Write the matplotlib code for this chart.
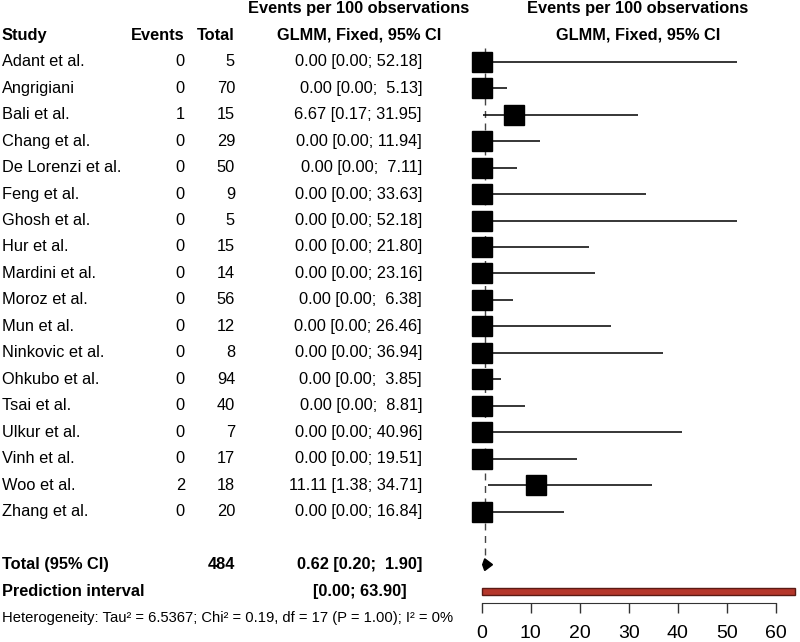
import matplotlib.pyplot as plt
import matplotlib.transforms as mtransforms
from matplotlib.patches import Polygon, Rectangle

plt.rcParams['font.family'] = ['Liberation Sans', 'DejaVu Sans']

# study data
studies = ["Adant et al.", "Angrigiani", "Bali et al.", "Chang et al.",
           "De Lorenzi et al.", "Feng et al.", "Ghosh et al.", "Hur et al.",
           "Mardini et al.", "Moroz et al.", "Mun et al.", "Ninkovic et al.",
           "Ohkubo et al.", "Tsai et al.", "Ulkur et al.", "Vinh et al.",
           "Woo et al.", "Zhang et al."]
events = [0, 0, 1, 0, 0, 0, 0, 0, 0, 0, 0, 0, 0, 0, 0, 0, 2, 0]
totals = [5, 70, 15, 29, 50, 9, 5, 15, 14, 56, 12, 8, 94, 40, 7, 17, 18, 20]
est = [0.00, 0.00, 6.67, 0.00, 0.00, 0.00, 0.00, 0.00, 0.00, 0.00, 0.00,
       0.00, 0.00, 0.00, 0.00, 0.00, 11.11, 0.00]
lower = [0.00, 0.00, 0.17, 0.00, 0.00, 0.00, 0.00, 0.00, 0.00, 0.00, 0.00,
         0.00, 0.00, 0.00, 0.00, 0.00, 1.38, 0.00]
upper = [52.18, 5.13, 31.95, 11.94, 7.11, 33.63, 52.18, 21.80, 23.16, 6.38,
         26.46, 36.94, 3.85, 8.81, 40.96, 19.51, 34.71, 16.84]

# pooled
total_n = 484
pooled = 0.62
pooled_lo = 0.20
pooled_hi = 1.90
pred_lo = 0.00
pred_hi = 63.90
xticks = [0, 10, 20, 30, 40, 50, 60]

W, H = 800, 642
fig = plt.figure(figsize=(W / 100, H / 100), dpi=100)
ax = fig.add_axes([462 / W, 1 - 603.3 / H, (798 - 462) / W, 603.3 / H])
ax.set_xlim(-4.02, 64.55)
ax.set_ylim(20.46, -2.33)

fs = 11.8
tr = mtransforms.blended_transform_factory(fig.transFigure, ax.transData)

def col(x, y, s, ha, bold=False, size=fs):
    ax.text(x / W, y, s, transform=tr, ha=ha, va='center', fontsize=size,
            fontweight='bold' if bold else 'normal', clip_on=False)

# headers
col(359, -2, "Events per 100 observations", 'center', True)
col(638, -2, "Events per 100 observations", 'center', True)
col(2, -1, "Study", 'left', True)
col(185, -1, "Events", 'right', True)
col(235, -1, "Total", 'right', True)
col(359, -1, "GLMM, Fixed, 95% CI", 'center', True)
col(638, -1, "GLMM, Fixed, 95% CI", 'center', True)

for i, name in enumerate(studies):
    col(2, i, name, 'left')
    col(185, i, str(events[i]), 'right')
    col(235, i, str(totals[i]), 'right')
    col(422, i, f"{est[i]:.2f} [{lower[i]:.2f}; {upper[i]:5.2f}]", 'right')
    ax.plot([lower[i], upper[i]], [i, i], color='black', lw=1.1,
            solid_capstyle='butt')
    ax.plot(est[i], i, marker='s', ms=14.5, color='black', mec='black')

# total rows
col(2, 19, "Total (95% CI)", 'left', True)
col(235, 19, str(total_n), 'right', True)
col(422, 19, f"{pooled:.2f} [{pooled_lo:.2f}; {pooled_hi:5.2f}]", 'right', True)
col(2, 20, "Prediction interval", 'left', True)
col(407, 20, f"[{pred_lo:.2f}; {pred_hi:.2f}]", 'right', True)
col(2, 21, "Heterogeneity: Tau² = 6.5367; Chi² = 0.19, df = 17 (P = 1.00); I² = 0%",
    'left', size=10.6)

ax.plot([pooled, pooled], [-0.5, 18.7], color='#444444', lw=1,
        linestyle=(0, (5, 4)), zorder=0)
ax.add_patch(Polygon([[pooled_lo, 19], [pooled, 18.78], [pooled_hi + 0.3, 19],
                      [pooled, 19.22]], closed=True, color='black'))
ax.add_patch(Rectangle((pred_lo, 20 - 0.13), pred_hi - pred_lo, 0.26,
                       facecolor='#b5372b', edgecolor='#5a1a14', lw=1))

for s in ['top', 'right', 'left']:
    ax.spines[s].set_visible(False)
ax.spines['bottom'].set_bounds(0, 60)
ax.spines['bottom'].set_color('#333333')
ax.set_yticks([])
ax.set_xticks(xticks)
ax.tick_params(axis='x', length=7.5, width=1, color='#333333', pad=8,
               labelsize=14)

fig.savefig("out.png", dpi=100)
